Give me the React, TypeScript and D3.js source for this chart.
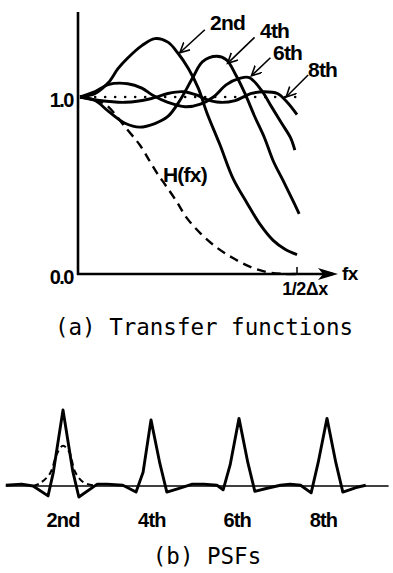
import React from "react";
import * as d3 from "d3";

// ---------- (a) Transfer functions ----------
const fx2 = [0, 0.07, 0.13, 0.175, 0.22, 0.285, 0.345, 0.405, 0.45, 0.5, 0.545, 0.585, 0.645, 0.705, 0.77, 0.83, 0.89, 0.945, 1.0];
const v2 = [1.0, 1.02, 1.08, 1.16, 1.22, 1.29, 1.33, 1.31, 1.25, 1.16, 1.05, 0.91, 0.73, 0.54, 0.4, 0.28, 0.19, 0.14, 0.11];

const fx4 = [0, 0.07, 0.13, 0.21, 0.275, 0.345, 0.405, 0.46, 0.52, 0.565, 0.63, 0.675, 0.72, 0.76, 0.805, 0.85, 0.89, 0.935, 0.975, 1.01];
const v4 = [1.0, 0.98, 0.92, 0.85, 0.83, 0.85, 0.89, 0.98, 1.11, 1.2, 1.23, 1.21, 1.12, 1.02, 0.89, 0.77, 0.64, 0.53, 0.43, 0.34];

const fx6 = [0, 0.07, 0.13, 0.22, 0.285, 0.335, 0.405, 0.485, 0.555, 0.615, 0.675, 0.735, 0.78, 0.835, 0.885, 0.93, 0.97, 0.99];
const v6 = [1.0, 1.03, 1.07, 1.075, 1.05, 1.01, 0.97, 0.945, 0.96, 1.0, 1.07, 1.105, 1.11, 1.04, 0.94, 0.85, 0.77, 0.7];

const fx8 = [0, 0.09, 0.21, 0.325, 0.405, 0.475, 0.54, 0.575, 0.645, 0.715, 0.79, 0.85, 0.91, 0.955, 1.0];
const v8 = [1.0, 0.98, 0.97, 0.99, 1.02, 1.03, 1.01, 0.99, 0.97, 0.98, 1.02, 1.03, 1.02, 0.97, 0.9];

const fxH = [0, 0.07, 0.125, 0.215, 0.275, 0.32, 0.355, 0.395, 0.445, 0.49, 0.555, 0.63, 0.705, 0.785, 0.865, 0.94, 1.0];
const vH = [1.0, 0.985, 0.95, 0.82, 0.73, 0.64, 0.57, 0.5, 0.41, 0.32, 0.23, 0.15, 0.09, 0.04, 0.01, 0.0, 0.0];

const dottedFx = [0.07, 1.0];
const dottedV = [1.0, 1.0];

const orderLabels = ["2nd", "4th", "6th", "8th"];
// arrow tips (data coords) for the order labels
const tipFx = [0.46, 0.68, 0.79, 0.95];
const tipV = [1.25, 1.19, 1.12, 1.0];

const yTickLabels = ["0.0", "1.0"];
const yTickValues = [0, 1];

// ---------- (b) PSFs ----------
const psfU = [-0.65, -0.47, -0.34, -0.17, -0.11, 0, 0.11, 0.18, 0.39, 0.5, 0.68,
  0.83, 0.91, 1.0, 1.1, 1.18, 1.32, 1.47,
  1.6, 1.75, 1.82, 1.9, 2.0, 2.1, 2.18, 2.32, 2.47, 2.58, 2.7,
  2.82, 2.9, 3.0, 3.1, 3.18, 3.33, 3.44];
const psfV = [0.01, 0.025, 0, -0.13, 0.18, 1.0, 0.2, -0.145, 0.025, 0.025, 0.01,
  -0.08, 0.18, 0.87, 0.3, -0.08, -0.03, 0.025,
  0.025, 0.01, -0.05, 0.28, 0.89, 0.31, -0.07, -0.03, 0.01, 0.025, 0.01,
  -0.09, 0.31, 0.89, 0.31, -0.08, -0.02, 0.01];

const gaussU = [-0.34, -0.27, -0.15, -0.07, 0, 0.07, 0.14, 0.23, 0.34];
const gaussV = [0, 0.03, 0.16, 0.42, 0.53, 0.45, 0.18, 0.05, 0.01];

const psfLabelU = [0, 1.01, 1.98, 2.96];

const zip = (a: number[], b: number[]) => a.map((v, i) => [v, b[i]] as [number, number]);

export default function App() {
  const x = d3.scaleLinear().domain([0, 1]).range([80, 297]);
  const y = d3.scaleLinear().domain([0, 1]).range([274, 97]);
  const line = d3
    .line<[number, number]>()
    .x((d) => x(d[0]))
    .y((d) => y(d[1]))
    .curve(d3.curveCatmullRom.alpha(0.5));
  const straight = d3.line<[number, number]>().x((d) => x(d[0])).y((d) => y(d[1]));

  const px = d3.scaleLinear().domain([-0.65, 3.7]).range([5.8, 388.6]);
  const py = d3.scaleLinear().domain([0, 1]).range([486, 410]);
  const psfLine = d3.line<[number, number]>().x((d) => px(d[0])).y((d) => py(d[1]));
  const gaussLine = d3
    .line<[number, number]>()
    .x((d) => px(d[0]))
    .y((d) => py(d[1]))
    .curve(d3.curveCatmullRom.alpha(0.5));

  const series = [zip(fx2, v2), zip(fx4, v4), zip(fx6, v6), zip(fx8, v8)];
  const tails = [
    [25, -23],
    [27, -26],
    [19, -18],
    [22, -22],
  ];
  const labelPos = [
    [210, 30],
    [260, 38],
    [273, 60],
    [308, 77],
  ];

  const bold = "'Liberation Sans', Arial, sans-serif";
  const mono = "'DejaVu Sans Mono', monospace";

  return (
    <svg
      width={393}
      height={573}
      viewBox="0 0 393 573"
      style={{ position: "absolute", left: 0, top: 0, background: "#fff" }}
    >
      <defs>
        <marker
          id="ah"
          markerUnits="userSpaceOnUse"
          markerWidth={12}
          markerHeight={12}
          refX={10}
          refY={5}
          orient="auto"
        >
          <path d="M0,0 L10,5 L0,10" fill="none" stroke="#000" strokeWidth={1.6} />
        </marker>
      </defs>
      <rect x={0} y={0} width={393} height={573} fill="#fff" />

      {/* axes */}
      <line x1={78} y1={12} x2={78} y2={275} stroke="#000" strokeWidth={2.6} />
      <line x1={77} y1={274} x2={333} y2={274} stroke="#000" strokeWidth={2.6} />
      <path d="M318,268 L338,274 L318,280 L323,274 Z" fill="#000" />
      <line x1={x(1)} y1={274} x2={x(1)} y2={267} stroke="#000" strokeWidth={1.5} />

      {yTickValues.map((v, i) => (
        <text
          key={i}
          x={73}
          y={y(v) + 9.5}
          textAnchor="end"
          fontFamily={bold}
          fontWeight="bold"
          fontSize={20}
          letterSpacing={-1.5}
        >
          {yTickLabels[i]}
        </text>
      ))}
      <text x={342} y={280} fontFamily={bold} fontWeight="bold" fontSize={19} letterSpacing={-0.5}>
        fx
      </text>
      <text x={x(1) + 8} y={295} textAnchor="middle" fontFamily={bold} fontWeight="bold" fontSize={18} letterSpacing={-0.5}>
        1/2Δx
      </text>

      {/* dotted unity line */}
      <path
        d={straight(zip(dottedFx, dottedV)) || ""}
        fill="none"
        stroke="#000"
        strokeWidth={2.6}
        strokeLinecap="round"
        strokeDasharray="0 10"
      />

      {/* H(fx) dashed */}
      <path
        d={line(zip(fxH, vH)) || ""}
        fill="none"
        stroke="#000"
        strokeWidth={2.4}
        strokeDasharray="9 6"
      />

      {series.map((s, i) => (
        <path key={i} d={line(s) || ""} fill="none" stroke="#000" strokeWidth={2.9} strokeLinejoin="round" />
      ))}

      {orderLabels.map((lab, i) => {
        const tx = x(tipFx[i]);
        const ty = y(tipV[i]);
        return (
          <g key={lab}>
            <line
              x1={tx + tails[i][0]}
              y1={ty + tails[i][1]}
              x2={tx}
              y2={ty}
              stroke="#000"
              strokeWidth={1.6}
              markerEnd="url(#ah)"
            />
            <text
              x={labelPos[i][0]}
              y={labelPos[i][1]}
              fontFamily={bold}
              fontWeight="bold"
              fontSize={21}
              letterSpacing={-0.8}
            >
              {lab}
            </text>
          </g>
        );
      })}

      <text x={163} y={182} fontFamily={bold} fontWeight="bold" fontSize={21} letterSpacing={-0.8}>
        H(fx)
      </text>

      <text x={204} y={335} textAnchor="middle" fontFamily={mono} fontSize={22.5}>
        (a) Transfer functions
      </text>

      {/* (b) PSFs */}
      <line x1={px(-0.65)} y1={py(0)} x2={px(3.7)} y2={py(0)} stroke="#000" strokeWidth={1.3} />
      <path
        d={gaussLine(zip(gaussU, gaussV)) || ""}
        fill="none"
        stroke="#000"
        strokeWidth={2}
        strokeDasharray="6 4"
      />
      <path d={psfLine(zip(psfU, psfV)) || ""} fill="none" stroke="#000" strokeWidth={2.9} strokeLinejoin="round" />

      {orderLabels.map((lab, i) => (
        <text
          key={lab}
          x={px(psfLabelU[i])}
          y={527}
          textAnchor="middle"
          fontFamily={bold}
          fontWeight="bold"
          fontSize={20}
          letterSpacing={-0.8}
        >
          {lab}
        </text>
      ))}

      <text x={207} y={564} textAnchor="middle" fontFamily={mono} fontSize={22.5}>
        (b) PSFs
      </text>
    </svg>
  );
}
